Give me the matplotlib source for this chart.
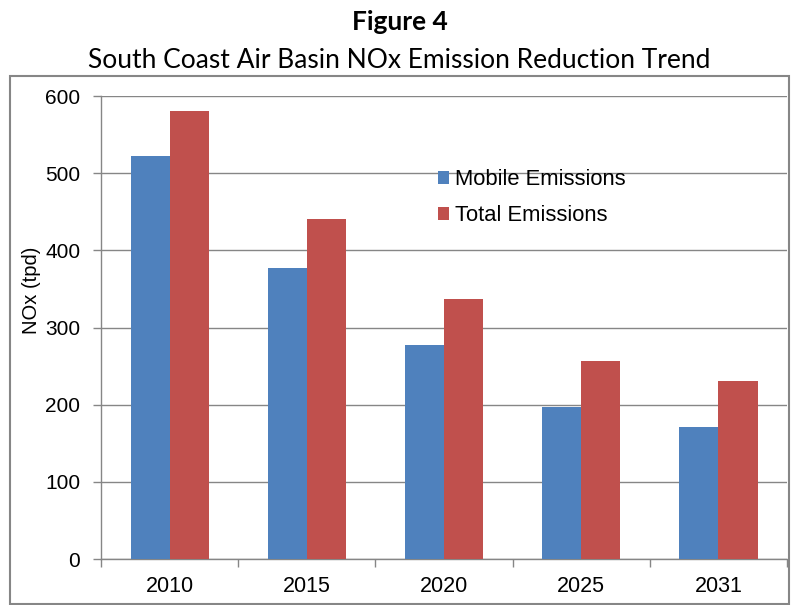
import numpy as np
import matplotlib
matplotlib.use("Agg")
import matplotlib.pyplot as plt
from matplotlib.patches import Rectangle
from matplotlib.ticker import FixedLocator

years = ["2010", "2015", "2020", "2025", "2031"]
mobile = [522, 377, 277, 197, 171]
total = [580, 440, 337, 257, 231]
yticks = [0, 100, 200, 300, 400, 500, 600]

blue = "#4F81BD"
red = "#C0504D"
grey = "#868686"

plt.rcParams["font.family"] = ["Liberation Sans", "DejaVu Sans"]

fig = plt.figure(figsize=(7.91, 6.05), dpi=100)

# outer frame around the chart
fig.patches.append(Rectangle((0.0126, 0.0017), 0.9849, 0.8723, transform=fig.transFigure,
                             fill=False, edgecolor=grey, linewidth=1.5))

fig.text(0.505, 0.964, "Figure 4", ha="center", va="center", fontsize=19,
         fontweight="bold", family=["Lato", "DejaVu Sans"])
fig.text(0.505, 0.900, "South Coast Air Basin NOx Emission Reduction Trend",
         ha="center", va="center", fontsize=19, family=["Lato", "DejaVu Sans"])

ax = fig.add_axes([0.1277, 0.076, 0.8673, 0.7653])

x = np.arange(len(years))
w = 0.285
ax.bar(x - w / 2, mobile, w, color=blue, label="Mobile Emissions", zorder=3)
ax.bar(x + w / 2, total, w, color=red, label="Total Emissions", zorder=3)

ax.set_xlim(-0.5, len(years) - 0.5)
ax.set_ylim(0, 600)
ax.set_yticks(yticks)
ax.yaxis.grid(True, color=grey, linewidth=1, zorder=0)
ax.set_axisbelow(True)

ax.set_xticks(x)
ax.set_xticklabels(years)
ax.xaxis.set_minor_locator(FixedLocator(np.arange(-0.5, len(years), 1)))
ax.tick_params(axis="x", which="major", length=0, pad=12, labelsize=15.5)
ax.tick_params(axis="x", which="minor", length=6, color=grey, width=1)
ax.tick_params(axis="y", length=6, color=grey, width=1, pad=9, labelsize=15)

for side in ("top", "right"):
    ax.spines[side].set_visible(False)
for side in ("left", "bottom"):
    ax.spines[side].set_color(grey)
    ax.spines[side].set_linewidth(1)

ax.set_ylabel("NOx (tpd)", fontsize=14.5)
ax.yaxis.set_label_coords(-0.088, 0.58)

ax.legend(loc="upper left", bbox_to_anchor=(0.491, 0.842), frameon=False, fontsize=15.8,
          handlelength=0.52, handleheight=0.52, handletextpad=0.25, labelspacing=0.68,
          borderaxespad=0, borderpad=0)

fig.savefig("out.png", dpi=100)
